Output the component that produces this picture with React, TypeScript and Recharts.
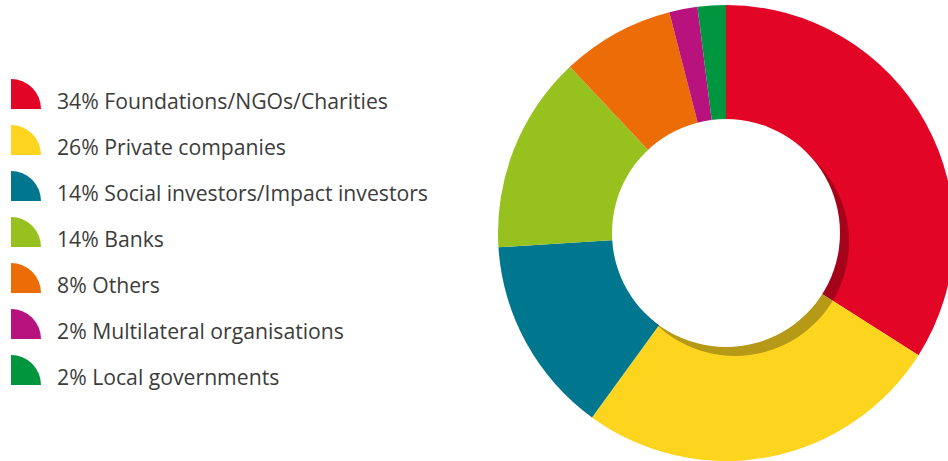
import { Cell, Pie, PieChart } from "recharts";

const labels = [
  "Foundations/NGOs/Charities",
  "Private companies",
  "Social investors/Impact investors",
  "Banks",
  "Others",
  "Multilateral organisations",
  "Local governments",
];
const shares = [34, 26, 14, 14, 8, 2, 2];
const colors = ["#e30525", "#fdd51f", "#00778f", "#97c11f", "#ec6c07", "#b8127f", "#00963f"];

const data = labels.map((name, i) => ({ name, value: shares[i] }));
const disc = [{ name: "disc", value: 1 }];

const CX = 726;
const CY = 233;

function QuarterIcon({ color }: { color: string }) {
  return (
    <svg width={30} height={30} style={{ display: "block" }}>
      <path d="M0,30 L0,0 A30,30 0 0 1 30,30 Z" fill={color} />
    </svg>
  );
}

function LegendList() {
  return (
    <div style={{ position: "absolute", left: 0, top: 0 }}>
      {labels.map((name, i) => (
        <div key={name}>
          <div style={{ position: "absolute", left: 11, top: 79 + i * 46 }}>
            <QuarterIcon color={colors[i]} />
          </div>
          <div
            style={{
              position: "absolute",
              left: 57,
              top: 86 + i * 46,
              height: 30,
              lineHeight: "30px",
              whiteSpace: "nowrap",
              fontFamily: "'Open Sans', sans-serif",
              fontSize: 21.2,
              color: "#3c3c3b",
            }}
          >
            {shares[i]}% {name}
          </div>
        </div>
      ))}
    </div>
  );
}

export default function App() {
  return (
    <div style={{ position: "absolute", left: 0, top: 0, width: 948, height: 461, background: "#fff", overflow: "hidden" }}>
      <PieChart width={948} height={461} margin={{ top: 0, right: 0, bottom: 0, left: 0 }}>
        <Pie
          data={data}
          dataKey="value"
          cx={CX}
          cy={CY}
          innerRadius={0}
          outerRadius={228}
          startAngle={90}
          endAngle={-270}
          stroke="none"
          isAnimationActive={false}
        >
          {data.map((d, i) => (
            <Cell key={d.name} fill={colors[i]} />
          ))}
        </Pie>
        {/* inner shadow of the hole */}
        <Pie
          data={disc}
          dataKey="value"
          cx={CX + 9}
          cy={CY + 9}
          innerRadius={0}
          outerRadius={114}
          startAngle={90}
          endAngle={-270}
          stroke="none"
          fill="#000"
          fillOpacity={0.28}
          isAnimationActive={false}
        />
        <Pie
          data={disc}
          dataKey="value"
          cx={CX}
          cy={CY}
          innerRadius={0}
          outerRadius={114}
          startAngle={90}
          endAngle={-270}
          stroke="none"
          fill="#fff"
          isAnimationActive={false}
        />
      </PieChart>
      <LegendList />
    </div>
  );
}
